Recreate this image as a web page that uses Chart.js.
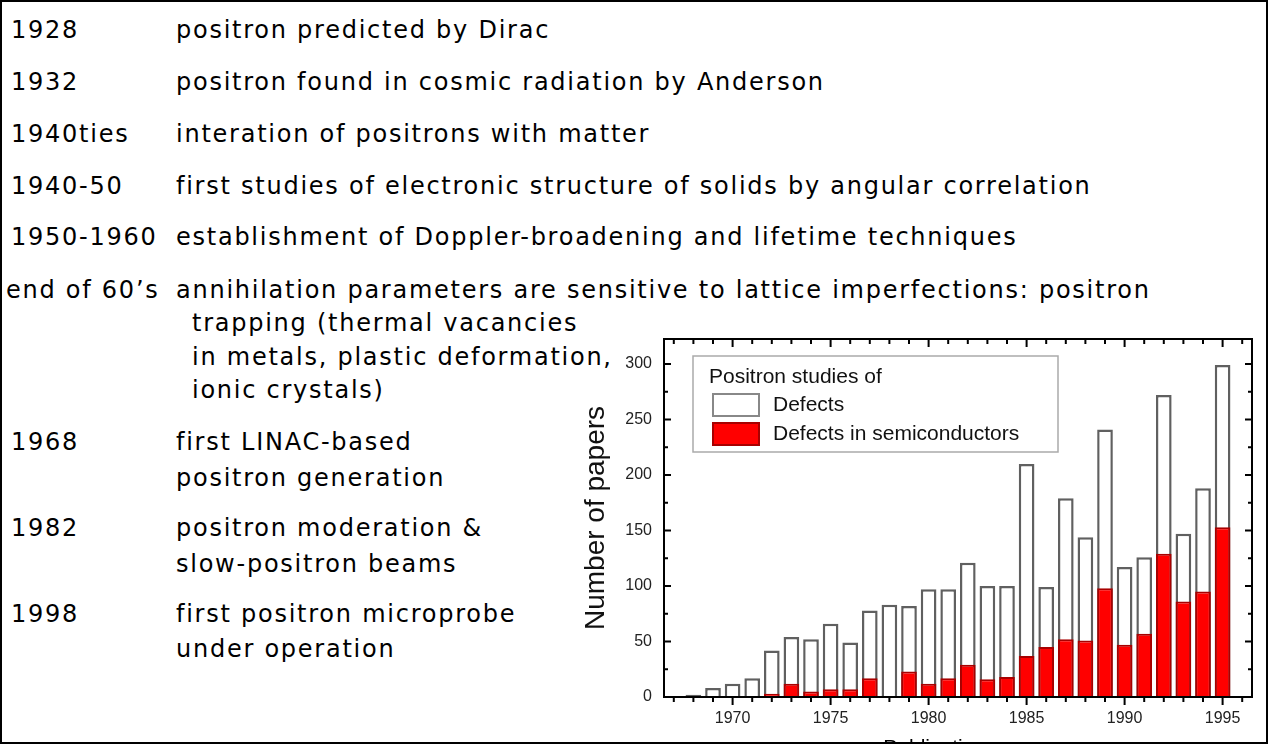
<!DOCTYPE html>
<html>
<head>
<meta charset="utf-8">
<title>Positron studies</title>
<script src="https://cdn.jsdelivr.net/npm/chart.js@4.4.0/dist/chart.umd.min.js"></script>
<style>
  html, body { margin: 0; padding: 0; width: 1270px; height: 744px; overflow: hidden; background: #fff; }
  .frame { position: absolute; left: 0; top: 0; width: 1268px; height: 744px; border: 2px solid #000; box-sizing: border-box; pointer-events: none; z-index: 5; }
  .t { position: absolute; font-family: "DejaVu Sans", sans-serif; font-size: 24px; letter-spacing: 1.75px; line-height: 30px; color: #000; white-space: nowrap; }
  #wrap { position: absolute; left: 570px; top: 330px; width: 700px; height: 435px; }
</style>
</head>
<body>
<div class="frame"></div>

<div class="t" style="left:11px;top:15px">1928</div>
<div class="t" style="left:176px;top:15px">positron predicted by Dirac</div>
<div class="t" style="left:11px;top:67px">1932</div>
<div class="t" style="left:176px;top:67px">positron found in cosmic radiation by Anderson</div>
<div class="t" style="left:11px;top:119px">1940ties</div>
<div class="t" style="left:176px;top:119px">interation of positrons with matter</div>
<div class="t" style="left:11px;top:171px">1940-50</div>
<div class="t" style="left:176px;top:171px">first studies of electronic structure of solids by angular correlation</div>
<div class="t" style="left:11px;top:222px">1950-1960</div>
<div class="t" style="left:176px;top:222px">establishment of Doppler-broadening and lifetime techniques</div>
<div class="t" style="left:6px;top:275px">end of 60’s</div>
<div class="t" style="left:176px;top:275px">annihilation parameters are sensitive to lattice imperfections: positron</div>
<div class="t" style="left:192px;top:308px">trapping (thermal vacancies</div>
<div class="t" style="left:192px;top:342px">in metals, plastic deformation,</div>
<div class="t" style="left:192px;top:375px">ionic crystals)</div>
<div class="t" style="left:11px;top:427px">1968</div>
<div class="t" style="left:176px;top:427px">first LINAC-based</div>
<div class="t" style="left:176px;top:463px">positron generation</div>
<div class="t" style="left:11px;top:513px">1982</div>
<div class="t" style="left:176px;top:513px">positron moderation &amp;</div>
<div class="t" style="left:176px;top:549px">slow-positron beams</div>
<div class="t" style="left:11px;top:599px">1998</div>
<div class="t" style="left:176px;top:599px">first positron microprobe</div>
<div class="t" style="left:176px;top:634px">under operation</div>

<div id="wrap"><canvas id="papers"></canvas></div>

<script>
// Number of papers per year
const years = [1968, 1969, 1970, 1971, 1972, 1973, 1974, 1975, 1976, 1977,
               1978, 1979, 1980, 1981, 1982, 1983, 1984, 1985, 1986, 1987,
               1988, 1989, 1990, 1991, 1992, 1993, 1994, 1995];
const defects = [2, 8, 12, 17, 42, 54, 52, 66, 49, 78,
                 83, 82, 97, 97, 121, 100, 100, 210, 99, 179,
                 144, 241, 117, 126, 272, 147, 188, 299];
const semiconductors = [0, 1, 0, 0, 3, 12, 5, 7, 7, 17,
                        1, 23, 12, 17, 29, 16, 18, 37, 45, 52,
                        51, 98, 47, 57, 129, 86, 95, 153];
const seriesNames = ['Defects', 'Defects in semiconductors'];
const legendTitle = 'Positron studies of';
const xTickLabels = [1970, 1975, 1980, 1985, 1990, 1995];
const yTickLabels = [0, 50, 100, 150, 200, 250, 300];

const axisFont = 'Liberation Sans, Arial, sans-serif';

// box frame, inward/outward tick marks and the boxed legend
const framePlugin = {
    id: 'frame',
    afterDatasetsDraw(chart) {
        const { ctx, chartArea: a, scales } = chart;
        const x = scales.x, y = scales.y;
        ctx.save();
        ctx.strokeStyle = '#000';
        ctx.lineWidth = 2;
        ctx.strokeRect(a.left, a.top, a.right - a.left, a.bottom - a.top);

        ctx.beginPath();
        for (let yr = Math.ceil(x.min); yr <= x.max; yr++) {
            const px = x.getPixelForValue(yr);
            const len = yr % 5 === 0 ? 8 : 5;
            ctx.moveTo(px, a.bottom); ctx.lineTo(px, a.bottom + len);
            ctx.moveTo(px, a.top); ctx.lineTo(px, a.top + len);
        }
        for (let v = 0; v <= y.max; v += 25) {
            const py = y.getPixelForValue(v);
            const len = v % 50 === 0 ? 7 : 4;
            ctx.moveTo(a.left, py); ctx.lineTo(a.left + len, py);
            ctx.moveTo(a.right, py); ctx.lineTo(a.right - len, py);
        }
        ctx.stroke();

        // legend
        const ds = chart.data.datasets;
        const lx = a.left + 29, ly = a.top + 17;
        ctx.fillStyle = '#fff';
        ctx.fillRect(lx, ly, 365, 96);
        ctx.strokeStyle = '#aaa';
        ctx.lineWidth = 1.5;
        ctx.strokeRect(lx, ly, 365, 96);

        ctx.font = '21px ' + axisFont;
        ctx.textBaseline = 'middle';
        ctx.textAlign = 'left';
        ctx.fillStyle = '#111';
        ctx.fillText(legendTitle, lx + 16, ly + 21);

        const rows = [ly + 49, ly + 78];
        ds.forEach((d, i) => {
            ctx.fillStyle = d.backgroundColor;
            ctx.fillRect(lx + 20, rows[i] - 11, 46, 22);
            ctx.strokeStyle = i === 0 ? '#888' : d.borderColor;
            ctx.lineWidth = 2;
            ctx.strokeRect(lx + 20, rows[i] - 11, 46, 22);
            ctx.fillStyle = '#111';
            ctx.fillText(d.label, lx + 80, rows[i]);
        });
        ctx.restore();
    }
};

const ctx = document.getElementById('papers').getContext('2d');
new Chart(ctx, {
    type: 'bar',
    data: {
        datasets: [{
            label: seriesNames[0],
            data: years.map((yr, i) => ({ x: yr, y: defects[i] })),
            backgroundColor: '#ffffff',
            borderColor: '#606060',
            borderWidth: 2.5,
            order: 2
        }, {
            label: seriesNames[1],
            data: years.map((yr, i) => ({ x: yr, y: semiconductors[i] })),
            backgroundColor: '#ff0000',
            borderColor: '#a80000',
            borderWidth: 2,
            order: 1
        }]
    },
    options: {
        responsive: true,
        maintainAspectRatio: false,
        animation: false,
        grouped: false,
        barPercentage: 0.8,
        categoryPercentage: 1,
        layout: { padding: { top: 9, right: 18, left: 0, bottom: 0 } },
        plugins: {
            legend: { display: false },
            tooltip: { enabled: false }
        },
        scales: {
            x: {
                type: 'linear',
                min: 1966.5,
                max: 1996.5,
                offset: false,
                grid: { display: false, drawTicks: false, offset: false },
                border: { display: false },
                afterBuildTicks: s => { s.ticks = xTickLabels.map(v => ({ value: v })); },
                afterFit: s => { s.height = 68; s.paddingLeft = 0; s.paddingRight = 0; },
                ticks: {
                    padding: 12,
                    color: '#222',
                    maxRotation: 0,
                    autoSkip: false,
                    font: { family: axisFont, size: 16 },
                    callback: v => String(v)
                },
                title: {
                    display: true,
                    text: 'Publication year',
                    color: '#000',
                    font: { family: axisFont, size: 21 },
                    padding: { top: 0, bottom: 4 }
                }
            },
            y: {
                min: 0,
                max: 322.5,
                grid: { display: false, drawTicks: false },
                border: { display: false },
                afterBuildTicks: s => { s.ticks = yTickLabels.map(v => ({ value: v })); },
                afterFit: s => { s.width = 94; s.paddingTop = 0; s.paddingBottom = 0; },
                ticks: {
                    padding: 12,
                    color: '#222',
                    font: { family: axisFont, size: 16 },
                    callback: v => String(v)
                },
                title: {
                    display: true,
                    text: 'Number of papers',
                    color: '#111',
                    font: { family: axisFont, size: 28 },
                    padding: { top: 9, bottom: 0 }
                }
            }
        }
    },
    plugins: [framePlugin]
});
</script>
</body>
</html>
